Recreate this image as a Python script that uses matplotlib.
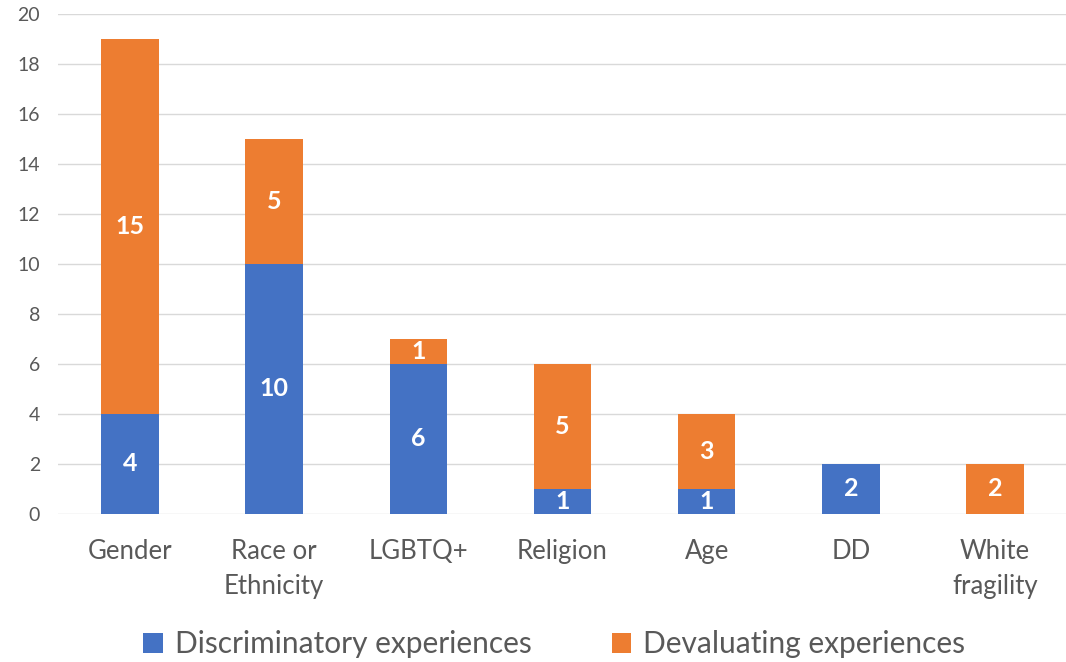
import numpy as np
import matplotlib.pyplot as plt

categories = ['Gender', 'Race or\nEthnicity', 'LGBTQ+', 'Religion', 'Age', 'DD', 'White\nfragility']
discriminatory = [4, 10, 6, 1, 1, 2, 0]
devaluating = [15, 5, 1, 5, 3, 0, 2]

blue = '#4472C4'
orange = '#ED7D31'
txt = '#595959'

plt.rcParams['font.family'] = ['Lato', 'DejaVu Sans']

fig = plt.figure(figsize=(10.66, 6.62), dpi=100)
ax = fig.add_axes([0.0544, 0.2236, 0.9465, 0.7553])

x = np.arange(len(categories))
w = 0.4
b1 = ax.bar(x, discriminatory, w, color=blue, label='Discriminatory experiences', zorder=3)
b2 = ax.bar(x, devaluating, w, bottom=discriminatory, color=orange,
            label='Devaluating experiences', zorder=3)

# white value labels in the middle of each segment, skip empty ones
for bars, vals in ((b1, discriminatory), (b2, devaluating)):
    for rect, v in zip(bars, vals):
        if v == 0:
            continue
        cy = rect.get_y() + rect.get_height() / 2
        ax.text(rect.get_x() + rect.get_width() / 2, cy, str(v), ha='center', va='center',
                color='white', fontsize=18, fontweight='bold', zorder=4)

ax.set_ylim(0, 20)
ax.set_xlim(-0.5, len(categories) - 0.5)
ax.set_yticks(range(0, 21, 2))
ax.set_xticks(x)
ax.set_xticklabels(categories, fontsize=18.5, color=txt, linespacing=1.5)
ax.tick_params(axis='y', labelsize=14, colors=txt, length=0, pad=13)
ax.tick_params(axis='x', length=0, pad=18)
ax.grid(axis='y', color='#D9D9D9', linewidth=1, zorder=0)
for s in ax.spines.values():
    s.set_visible(False)

fig.legend(loc='lower center', bbox_to_anchor=(0.52, -0.035), ncol=2, frameon=False,
           fontsize=21.5, labelcolor=txt, handlelength=0.65, handleheight=0.65,
           handletextpad=0.4, columnspacing=2.7)

fig.savefig('out.png', dpi=100)
